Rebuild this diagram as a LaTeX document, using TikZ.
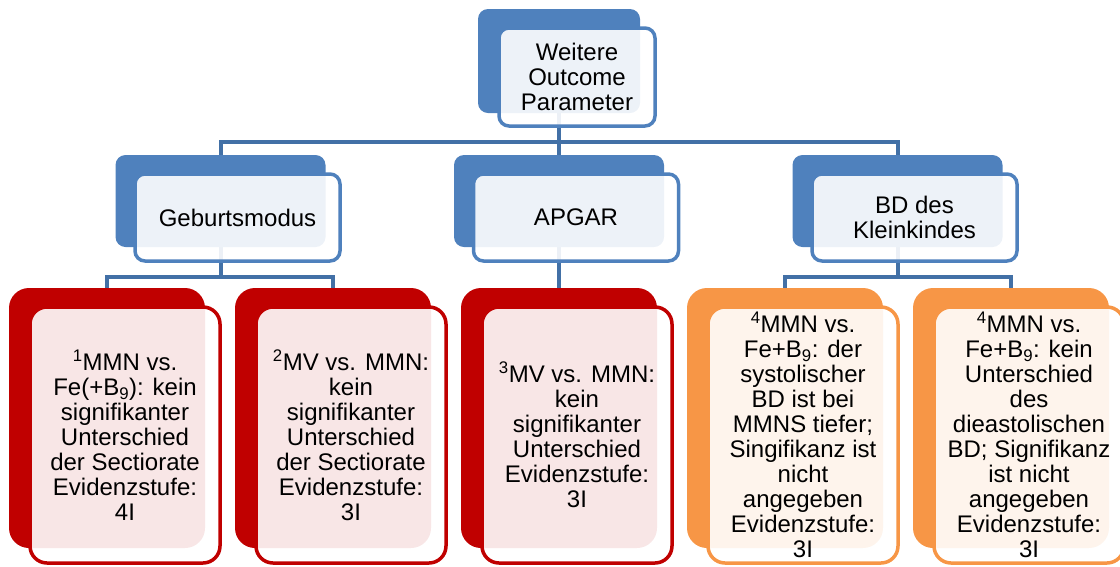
\documentclass[tikz,border=0pt]{standalone}
\usepackage{fontspec}
\setmainfont{Liberation Sans}
\usetikzlibrary{backgrounds}

\definecolor{accblue}{RGB}{79,129,189}
\definecolor{accred}{RGB}{192,0,0}
\definecolor{accorange}{RGB}{247,150,70}
\definecolor{linkblue}{RGB}{66,112,166}

\tikzset{
  x=1pt, y=-1pt,
  backbox/.style={draw=none, fill=#1, inner sep=0pt, outer sep=0pt},
  frontbox/.style={draw=#1, line width=3.5pt, fill=white, fill opacity=0.9,
    draw opacity=1, inner sep=0pt, outer sep=0pt},
  lvlA/.style={minimum width=162pt, minimum height=104pt, rounded corners=10pt},
  lvlAf/.style={minimum width=156pt, minimum height=98pt, rounded corners=10pt},
  lvlB/.style={minimum width=210pt, minimum height=92pt, rounded corners=10pt},
  lvlBf/.style={minimum width=205pt, minimum height=87pt, rounded corners=10pt},
  lvlC/.style={minimum width=196pt, minimum height=260pt, rounded corners=20pt},
  lvlCf/.style={minimum width=190pt, minimum height=256pt, rounded corners=17pt},
  label/.style={align=center, text=black, inner sep=0pt,
    font=\fontsize{24}{25}\selectfont},
  conn/.style={draw=linkblue, line width=4pt},
}

\begin{document}
\begin{tikzpicture}
\useasboundingbox (0,0) rectangle (1120,566);

% root
\node[backbox=accblue, lvlA] (root-b) at (559,61) {};
\node[frontbox=accblue, lvlAf] (root-f) at (577,77) {};
\node[label] (root-t) at (577,77) {Weitere\\Outcome\\Parameter};

% second row
\node[backbox=accblue, lvlB] (geb-b) at (220.5,201) {};
\node[frontbox=accblue, lvlBf] (geb-f) at (237.5,217.5) {};
\node[label] (geb-t) at (237.5,217.5) {Geburtsmodus};

\node[backbox=accblue, lvlB] (apg-b) at (559,201) {};
\node[frontbox=accblue, lvlBf] (apg-f) at (576,217.5) {};
\node[label] (apg-t) at (576,217.5) {APGAR};

\node[backbox=accblue, lvlB] (bd-b) at (897.5,201) {};
\node[frontbox=accblue, lvlBf] (bd-f) at (914.5,217.5) {};
\node[label] (bd-t) at (914.5,217.5) {BD des\\Kleinkindes};

% third row
\node[backbox=accred, lvlC] (c1-b) at (107,418) {};
\node[frontbox=accred, lvlCf] (c1-f) at (125,435) {};
\node[label] (c1-t) at (125,435) {\textsuperscript{1}MMN vs.\\Fe(+B\textsubscript{9}): kein\\signifikanter\\Unterschied\\der Sectiorate\\Evidenzstufe:\\4I};

\node[backbox=accred, lvlC] (c2-b) at (333,418) {};
\node[frontbox=accred, lvlCf] (c2-f) at (351,435) {};
\node[label] (c2-t) at (351,435) {\textsuperscript{2}MV vs. MMN:\\kein\\signifikanter\\Unterschied\\der Sectiorate\\Evidenzstufe:\\3I};

\node[backbox=accred, lvlC] (c3-b) at (559,418) {};
\node[frontbox=accred, lvlCf] (c3-f) at (577,435) {};
\node[label] (c3-t) at (577,435) {\textsuperscript{3}MV vs. MMN:\\kein\\signifikanter\\Unterschied\\Evidenzstufe:\\3I};

\node[backbox=accorange, lvlC] (c4-b) at (785,418) {};
\node[frontbox=accorange, lvlCf] (c4-f) at (803,435) {};
\node[label] (c4-t) at (803,435) {\textsuperscript{4}MMN vs.\\Fe+B\textsubscript{9}: der\\systolischer\\BD ist bei\\MMNS tiefer;\\Singifikanz ist\\nicht\\angegeben\\Evidenzstufe:\\3I};

\node[backbox=accorange, lvlC] (c5-b) at (1011,418) {};
\node[frontbox=accorange, lvlCf] (c5-f) at (1029,435) {};
\node[label] (c5-t) at (1029,435) {\textsuperscript{4}MMN vs.\\Fe+B\textsubscript{9}: kein\\Unterschied\\des\\dieastolischen\\BD; Signifikanz\\ist nicht\\angegeben\\Evidenzstufe:\\3I};

% connectors run underneath the boxes
\coordinate (busA) at (0,141.5);
\coordinate (busB) at (0,276.5);
\begin{scope}[on background layer]
  \draw[conn] (root-b.south) -- (root-b.south |- busA) -| (geb-b.north);
  \draw[conn] (root-b.south |- busA) -| (bd-b.north);
  \draw[conn] (root-b.south) -- (apg-b.north);
  \draw[conn] (geb-b.south) -- (geb-b.south |- busB) -| (c1-b.north);
  \draw[conn] (geb-b.south |- busB) -| (c2-b.north);
  \draw[conn] (apg-b.south) -- (c3-b.north);
  \draw[conn] (bd-b.south) -- (bd-b.south |- busB) -| (c4-b.north);
  \draw[conn] (bd-b.south |- busB) -| (c5-b.north);
\end{scope}
\end{tikzpicture}
\end{document}
